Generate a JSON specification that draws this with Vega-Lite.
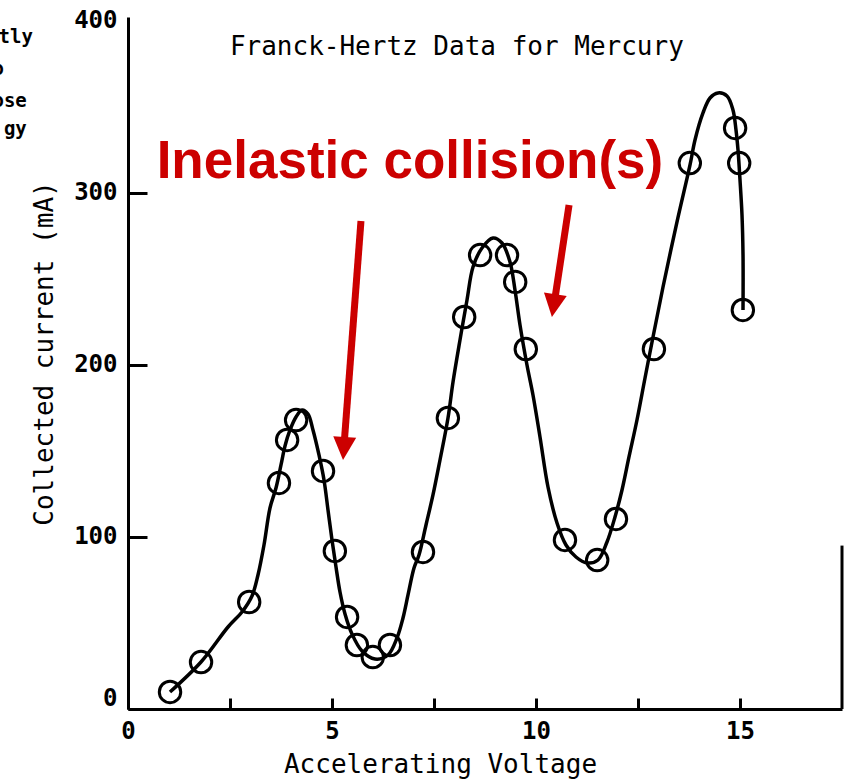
{
  "$schema": "https://vega.github.io/schema/vega-lite/v6.json",
  "width": 714,
  "height": 692,
  "autosize": {"type": "none"},
  "padding": {"left": 128, "top": 17, "right": 4, "bottom": 73},
  "background": "white",
  "config": {"view": {"stroke": null}, "axis": {"grid": false}},
  "datasets": {
    "curve": [
      {"i": 1, "x": 1.029, "y": 9.88}, {"i": 2, "x": 1.789, "y": 27.33}, {"i": 3, "x": 2.451, "y": 47.67},
      {"i": 4, "x": 2.794, "y": 56.4}, {"i": 5, "x": 3.039, "y": 65.7}, {"i": 6, "x": 3.186, "y": 77.91},
      {"i": 7, "x": 3.333, "y": 95.35}, {"i": 8, "x": 3.48, "y": 116.86}, {"i": 9, "x": 3.627, "y": 128.49},
      {"i": 10, "x": 3.75, "y": 141.86}, {"i": 11, "x": 3.848, "y": 152.91}, {"i": 12, "x": 3.971, "y": 162.21},
      {"i": 13, "x": 4.118, "y": 169.77}, {"i": 14, "x": 4.265, "y": 173.84}, {"i": 15, "x": 4.412, "y": 171.51},
      {"i": 16, "x": 4.534, "y": 162.21}, {"i": 17, "x": 4.681, "y": 147.67}, {"i": 18, "x": 4.804, "y": 133.14},
      {"i": 19, "x": 4.902, "y": 115.7}, {"i": 20, "x": 5.0, "y": 98.26}, {"i": 21, "x": 5.098, "y": 82.56},
      {"i": 22, "x": 5.196, "y": 68.02}, {"i": 23, "x": 5.319, "y": 55.23}, {"i": 24, "x": 5.49, "y": 43.6},
      {"i": 25, "x": 5.735, "y": 33.72}, {"i": 26, "x": 6.054, "y": 29.07}, {"i": 27, "x": 6.373, "y": 31.4},
      {"i": 28, "x": 6.593, "y": 41.28}, {"i": 29, "x": 6.74, "y": 52.91}, {"i": 30, "x": 6.863, "y": 66.28},
      {"i": 31, "x": 7.01, "y": 81.98}, {"i": 32, "x": 7.132, "y": 89.53}, {"i": 33, "x": 7.304, "y": 106.98},
      {"i": 34, "x": 7.475, "y": 124.42}, {"i": 35, "x": 7.647, "y": 144.77}, {"i": 36, "x": 7.843, "y": 169.19},
      {"i": 37, "x": 7.966, "y": 190.12}, {"i": 38, "x": 8.137, "y": 214.53}, {"i": 39, "x": 8.309, "y": 237.79},
      {"i": 40, "x": 8.456, "y": 256.98}, {"i": 41, "x": 8.676, "y": 268.02}, {"i": 42, "x": 8.946, "y": 273.84},
      {"i": 43, "x": 9.167, "y": 270.93}, {"i": 44, "x": 9.363, "y": 259.88}, {"i": 45, "x": 9.485, "y": 243.6},
      {"i": 46, "x": 9.608, "y": 223.26}, {"i": 47, "x": 9.779, "y": 200.0}, {"i": 48, "x": 9.926, "y": 182.56},
      {"i": 49, "x": 10.098, "y": 158.14}, {"i": 50, "x": 10.294, "y": 129.07}, {"i": 51, "x": 10.515, "y": 108.14},
      {"i": 52, "x": 10.735, "y": 95.35}, {"i": 53, "x": 10.98, "y": 88.37}, {"i": 54, "x": 11.25, "y": 84.88},
      {"i": 55, "x": 11.52, "y": 86.63}, {"i": 56, "x": 11.74, "y": 97.09}, {"i": 57, "x": 11.936, "y": 111.63},
      {"i": 58, "x": 12.108, "y": 127.33}, {"i": 59, "x": 12.279, "y": 146.51}, {"i": 60, "x": 12.475, "y": 168.02},
      {"i": 61, "x": 12.672, "y": 192.44}, {"i": 62, "x": 12.868, "y": 216.28}, {"i": 63, "x": 13.113, "y": 245.35},
      {"i": 64, "x": 13.456, "y": 283.14}, {"i": 65, "x": 13.775, "y": 316.28}, {"i": 66, "x": 13.897, "y": 330.81},
      {"i": 67, "x": 14.093, "y": 346.51}, {"i": 68, "x": 14.265, "y": 355.23}, {"i": 69, "x": 14.461, "y": 358.14},
      {"i": 70, "x": 14.681, "y": 356.4}, {"i": 71, "x": 14.828, "y": 348.26}, {"i": 72, "x": 14.902, "y": 336.63},
      {"i": 73, "x": 14.951, "y": 325.0}, {"i": 74, "x": 15.0, "y": 307.56}, {"i": 75, "x": 15.049, "y": 287.21},
      {"i": 76, "x": 15.074, "y": 263.95}, {"i": 77, "x": 15.074, "y": 231.98}
    ],
    "points": [
      {"x": 1.03, "y": 9.9}, {"x": 1.79, "y": 27.3}, {"x": 2.97, "y": 62.2}, {"x": 3.7, "y": 131.4},
      {"x": 3.9, "y": 156.4}, {"x": 4.12, "y": 168.0}, {"x": 4.78, "y": 138.4}, {"x": 5.07, "y": 91.9},
      {"x": 5.37, "y": 53.5}, {"x": 5.61, "y": 37.2}, {"x": 6.0, "y": 30.2}, {"x": 6.42, "y": 37.2},
      {"x": 7.23, "y": 91.3}, {"x": 7.84, "y": 169.2}, {"x": 8.24, "y": 227.9}, {"x": 8.63, "y": 263.9},
      {"x": 9.29, "y": 263.9}, {"x": 9.49, "y": 248.3}, {"x": 9.75, "y": 209.3}, {"x": 10.71, "y": 98.3},
      {"x": 11.5, "y": 86.6}, {"x": 11.96, "y": 110.5}, {"x": 12.89, "y": 209.3}, {"x": 13.77, "y": 317.4},
      {"x": 14.88, "y": 337.8}, {"x": 14.98, "y": 317.4}, {"x": 15.07, "y": 232.0}
    ],
    "shafts": [
      {"id": "a", "x": 5.71, "y": 283.7, "x2": 5.29, "y2": 151.7},
      {"id": "b", "x": 10.81, "y": 293.0, "x2": 10.44, "y2": 234.8}
    ],
    "heads": [
      {"id": "a", "x": 5.27, "y": 144.8},
      {"id": "b", "x": 10.39, "y": 227.9}
    ],
    "edge": [{"x": 17.5, "y": 0, "y2": 95}],
    "title": [{"t": "Franck-Hertz Data for Mercury", "x": 8.06, "y": 380.2}],
    "redtext": [{"t": "Inelastic collision(s)", "x": 6.91, "y": 308.7}],
    "frag": [
      {"t": "tly", "x": -2.33, "y": 387.2},
      {"t": "o", "x": -3.04, "y": 368.6},
      {"t": "ose", "x": -2.48, "y": 350.0},
      {"t": "gy", "x": -2.48, "y": 333.7}
    ]
  },
  "encoding": {
    "x": {
      "field": "x", "type": "quantitative",
      "scale": {"domain": [0, 17.5], "nice": false, "zero": false},
      "axis": {
        "title": "Accelerating Voltage",
        "values": [0, 2.5, 5, 7.5, 10, 12.5, 15],
        "labelExpr": "datum.value % 5 === 0 ? format(datum.value, 'd') : ''",
        "domainColor": "black", "domainWidth": 3,
        "tickColor": "black", "tickWidth": 3, "tickSize": -11,
        "labelFont": "DejaVu Sans Mono", "labelFontSize": 24, "labelFontWeight": "bold", "labelColor": "black",
        "labelPadding": 21, "labelFlush": false, "labelOverlap": false,
        "titleFont": "DejaVu Sans Mono", "titleFontSize": 26, "titleFontWeight": "normal", "titleColor": "black",
        "titleX": 312, "titleY": 63, "titleBaseline": "alphabetic", "titleAlign": "center"
      }
    },
    "y": {
      "field": "y", "type": "quantitative",
      "scale": {"domain": [0, 402.3], "nice": false, "zero": false},
      "axis": {
        "title": "Collected current (mA)",
        "values": [0, 100, 200, 300, 400],
        "format": "d",
        "domainColor": "black", "domainWidth": 3,
        "tickColor": "black", "tickWidth": 3, "tickSize": -19,
        "tickOpacity": {"condition": {"test": "datum.value === 400", "value": 0}, "value": 1},
        "labelOffset": {"condition": {"test": "datum.value === 0", "value": -11}, "value": 0},
        "labelFont": "DejaVu Sans Mono", "labelFontSize": 24, "labelFontWeight": "bold", "labelColor": "black",
        "labelPadding": 30, "labelFlush": false, "labelOverlap": false,
        "titleFont": "DejaVu Sans Mono", "titleFontSize": 26, "titleFontWeight": "normal", "titleColor": "black",
        "titleAngle": 270, "titleX": -76, "titleY": 336, "titleBaseline": "alphabetic", "titleAlign": "center"
      }
    }
  },
  "layer": [
    {
      "data": {"name": "curve"},
      "mark": {"type": "line", "color": "black", "strokeWidth": 3.5, "interpolate": "catmull-rom"},
      "encoding": {"order": {"field": "i", "type": "quantitative"}}
    },
    {
      "data": {"name": "points"},
      "mark": {"type": "point", "shape": "circle", "size": 460, "filled": false, "stroke": "black", "strokeWidth": 3, "opacity": 1}
    },
    {
      "data": {"name": "edge"},
      "mark": {"type": "rule", "color": "black", "strokeWidth": 3},
      "encoding": {"y2": {"field": "y2"}}
    },
    {
      "data": {"name": "shafts"},
      "mark": {"type": "rule", "color": "#cc0000", "strokeWidth": 7},
      "encoding": {"x2": {"field": "x2"}, "y2": {"field": "y2"}}
    },
    {
      "data": {"name": "heads"},
      "transform": [{"filter": "datum.id === 'a'"}],
      "mark": {"type": "point", "shape": "M0,0L-0.5,-1L0.5,-1Z", "size": 2116, "filled": true, "color": "#cc0000", "opacity": 1, "angle": 4.3, "strokeWidth": 0}
    },
    {
      "data": {"name": "heads"},
      "transform": [{"filter": "datum.id === 'b'"}],
      "mark": {"type": "point", "shape": "M0,0L-0.5,-1L0.5,-1Z", "size": 2116, "filled": true, "color": "#cc0000", "opacity": 1, "angle": 8.6, "strokeWidth": 0}
    },
    {
      "data": {"name": "title"},
      "mark": {"type": "text", "font": "DejaVu Sans Mono", "fontSize": 26, "color": "black", "align": "center", "baseline": "alphabetic"},
      "encoding": {"text": {"field": "t"}}
    },
    {
      "data": {"name": "redtext"},
      "mark": {"type": "text", "font": "Liberation Sans", "fontSize": 53, "fontWeight": "bold", "color": "#cc0000", "align": "center", "baseline": "alphabetic"},
      "encoding": {"text": {"field": "t"}}
    },
    {
      "data": {"name": "frag"},
      "mark": {"type": "text", "font": "DejaVu Sans Mono", "fontSize": 19, "fontWeight": "bold", "color": "black", "align": "right", "baseline": "alphabetic"},
      "encoding": {"text": {"field": "t"}}
    }
  ]
}
